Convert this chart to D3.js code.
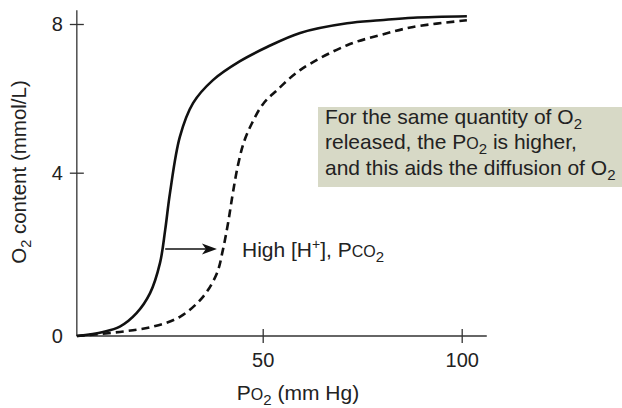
<!DOCTYPE html>
<html>
<head>
<meta charset="utf-8">
<script src="https://cdn.jsdelivr.net/npm/d3@7"></script>
<style>
  html, body { margin: 0; padding: 0; background: #fff; }
  svg text { font-family: "Liberation Sans", Arial, Helvetica, sans-serif; fill: #222; }
</style>
</head>
<body>
<svg id="chart" width="622" height="408"></svg>
<script>
// ---- data ----
const normalPo2 = [3.3, 9.9, 14.1, 18.3, 21.7, 24.2, 25.5, 26.7, 29.2, 32.5, 37.5, 44.3, 51.1, 59.4, 71.2, 79.5, 87.8, 101.3];
const normalO2  = [0.0, 0.1, 0.23, 0.56, 1.05, 1.79, 2.6, 3.5, 4.97, 5.87, 6.49, 7.0, 7.38, 7.76, 8.02, 8.10, 8.17, 8.21];
const shiftedPo2 = [3.3, 14.1, 22.4, 29.2, 35.0, 38.5, 40.0, 41.3, 42.5, 43.8, 45.3, 47.3, 50.1, 53.6, 59.4, 71.2, 79.5, 87.8, 101.3];
const shiftedO2  = [0.0, 0.1, 0.23, 0.47, 0.96, 1.54, 2.11, 2.77, 3.5, 4.21, 4.83, 5.33, 5.85, 6.22, 6.76, 7.43, 7.70, 7.92, 8.1];
const xTicks = [50, 100];
const yTicks = [0, 4, 8];
const arrowFrom = [25.5, 2.13];
const arrowTo = [38.5, 2.13];

// ---- scales ----
const xAxisStart = 3.3, xAxisEnd = 106.3, yAxisTop = 8.37;
const x = d3.scaleLinear().domain([0, 100]).range([63.7, 461.7]);
const y = d3.scaleLinear().domain([0, 4, 8]).range([336, 172.7, 24]);

const svg = d3.select("#chart");
const ink = "#222";
const font = "'Liberation Sans', Arial, sans-serif";

// axis lines
svg.append("line").attr("x1", x(xAxisStart)).attr("x2", x(xAxisStart))
  .attr("y1", y(0)).attr("y2", y(yAxisTop)).attr("stroke", "#333").attr("stroke-width", 1.3);
svg.append("line").attr("x1", x(xAxisStart)).attr("x2", x(xAxisEnd))
  .attr("y1", y(0)).attr("y2", y(0)).attr("stroke", "#333").attr("stroke-width", 1.3);

// y axis ticks
const yAx = svg.append("g").attr("transform", `translate(${x(xAxisStart)},0)`)
  .call(d3.axisLeft(y).tickValues(yTicks).tickSize(7).tickPadding(7).tickFormat(d3.format("d")));
yAx.select(".domain").remove();
yAx.selectAll(".tick line").attr("x1", d => d === 0 ? 0 : 7).attr("x2", d => d === 0 ? 0 : -7)
  .attr("stroke", "#333").attr("stroke-width", 1.3);
yAx.selectAll(".tick text").attr("font-size", 20).attr("fill", ink).style("font-family", font);

// x axis ticks
const xAx = svg.append("g").attr("transform", `translate(0,${y(0)})`)
  .call(d3.axisBottom(x).tickValues(xTicks).tickSize(7).tickPadding(10).tickFormat(d3.format("d")));
xAx.select(".domain").remove();
xAx.selectAll(".tick line").attr("y1", -7).attr("y2", 7).attr("stroke", "#333").attr("stroke-width", 1.3);
xAx.selectAll(".tick text").attr("font-size", 20).attr("fill", ink).style("font-family", font);

// curves
const line = d3.line().x(d => x(d[0])).y(d => y(d[1])).curve(d3.curveCatmullRom.alpha(0.5));
const normal = normalPo2.map((v, i) => [v, normalO2[i]]);
const shifted = shiftedPo2.map((v, i) => [v, shiftedO2[i]]);
svg.append("path").datum(shifted).attr("d", line).attr("fill", "none")
  .attr("stroke", "#111").attr("stroke-width", 2.6).attr("stroke-dasharray", "8,5");
svg.append("path").datum(normal).attr("d", line).attr("fill", "none")
  .attr("stroke", "#111").attr("stroke-width", 2.6);

// arrow
const ax1 = x(arrowFrom[0]), ay = y(arrowFrom[1]), ax2 = x(arrowTo[0]);
svg.append("line").attr("x1", ax1).attr("x2", ax2 - 6).attr("y1", ay).attr("y2", ay)
  .attr("stroke", "#111").attr("stroke-width", 1.4);
svg.append("path")
  .attr("d", `M${ax2},${ay} L${ax2 - 15},${ay - 5.5} L${ax2 - 11},${ay} L${ax2 - 15},${ay + 5.5} Z`)
  .attr("fill", "#111");

// label near arrow
const lab = svg.append("text").attr("x", 242).attr("y", 257).attr("font-size", 21);
lab.append("tspan").text("High [H");
lab.append("tspan").attr("font-size", 14).attr("dy", -8).text("+");
lab.append("tspan").attr("dy", 8).text("], P");
lab.append("tspan").attr("font-size", 16).text("CO");
lab.append("tspan").attr("font-size", 15).attr("dy", 5).text("2");

// annotation box
svg.append("rect").attr("x", 318).attr("y", 107).attr("width", 304).attr("height", 80).attr("fill", "#d7d9c6");
const b1 = svg.append("text").attr("x", 325).attr("y", 124).attr("font-size", 21);
b1.append("tspan").text("For the same quantity of O");
b1.append("tspan").attr("font-size", 15).attr("dy", 5).text("2");
const b2 = svg.append("text").attr("x", 325).attr("y", 149).attr("font-size", 21);
b2.append("tspan").text("released, the P");
b2.append("tspan").attr("font-size", 16).text("O");
b2.append("tspan").attr("font-size", 15).attr("dy", 5).text("2");
b2.append("tspan").attr("dy", -5).text(" is higher,");
const b3 = svg.append("text").attr("x", 325).attr("y", 175).attr("font-size", 21);
b3.append("tspan").text("and this aids the diffusion of O");
b3.append("tspan").attr("font-size", 15).attr("dy", 5).text("2");

// x axis title
const xt = svg.append("text").attr("x", 298).attr("y", 400).attr("font-size", 21).attr("text-anchor", "middle");
xt.append("tspan").text("P");
xt.append("tspan").attr("font-size", 16).text("O");
xt.append("tspan").attr("font-size", 15).attr("dy", 5).text("2");
xt.append("tspan").attr("dy", -5).text(" (mm Hg)");

// y axis title
const yt = svg.append("text").attr("transform", "translate(26,172) rotate(-90)")
  .attr("font-size", 20.5).attr("text-anchor", "middle");
yt.append("tspan").text("O");
yt.append("tspan").attr("font-size", 14.5).attr("dy", 5).text("2");
yt.append("tspan").attr("dy", -5).text(" content (mmol/L)");
</script>
</body>
</html>
